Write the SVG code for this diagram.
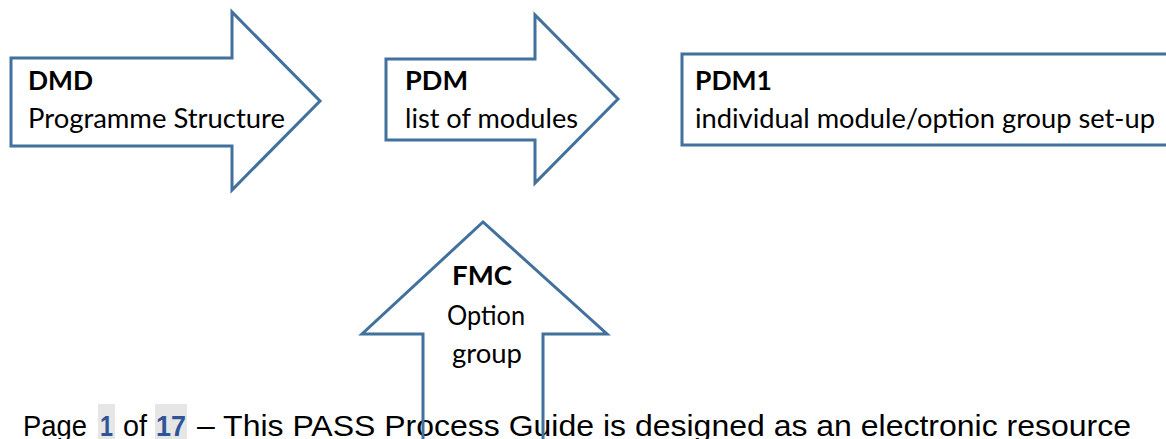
<svg xmlns="http://www.w3.org/2000/svg" width="1166" height="439" viewBox="0 0 1166 439">
<style>
.shape{fill:#fff;stroke:#41719C;stroke-width:3;stroke-linejoin:miter}
.open{fill:none;stroke:#41719C;stroke-width:3}
.t{font-family:Lato,"Open Sans",sans-serif;font-size:26px;fill:#000}
.b{font-weight:bold}
.foot{font-family:"Liberation Sans",Arial,sans-serif;font-size:30px;fill:#000}
.num{font-weight:bold;fill:#2F5597}
.hl{fill:#E6E6E6}
</style>
<rect width="1166" height="439" fill="#fff"/>
<g id="footer">
<rect class="hl" x="98" y="404" width="17" height="35"/>
<rect class="hl" x="155" y="404" width="32" height="35"/>
<text class="foot" y="436"><tspan x="23" textLength="64" lengthAdjust="spacingAndGlyphs">Page</tspan><tspan class="num" x="100" textLength="13" lengthAdjust="spacingAndGlyphs">1</tspan><tspan x="123" textLength="24" lengthAdjust="spacingAndGlyphs">of</tspan><tspan class="num" x="156" textLength="30" lengthAdjust="spacingAndGlyphs">17</tspan><tspan x="197" textLength="934" lengthAdjust="spacingAndGlyphs">– This PASS Process Guide is designed as an electronic resource</tspan></text>
</g>
<g id="connectors"></g>
<g id="dmd">
<path class="shape" d="M11,58 H232 V12 L320,101 L232,190 V146 H11 Z"/>
<text class="t b" x="28" y="90" textLength="65" lengthAdjust="spacingAndGlyphs">DMD</text>
<text class="t" x="28" y="128" textLength="257" lengthAdjust="spacingAndGlyphs">Programme Structure</text>
</g>
<g id="pdm">
<path class="shape" d="M386,59 H535 V15 L618,99 L535,183 V140 H386 Z"/>
<text class="t b" x="405" y="90" textLength="63" lengthAdjust="spacingAndGlyphs">PDM</text>
<text class="t" x="405" y="128" textLength="173" lengthAdjust="spacingAndGlyphs">list of modules</text>
</g>
<g id="pdm1">
<rect class="shape" x="682" y="54" width="500" height="91"/>
<text class="t b" x="695" y="90" textLength="77" lengthAdjust="spacingAndGlyphs">PDM1</text>
<text class="t" x="695" y="128" textLength="460" lengthAdjust="spacingAndGlyphs">individual module/option group set-up</text>
</g>
<g id="fmc">
<path class="open" d="M423,445 V334 H362 L483,222 L607,334 H543 V445"/>
<text class="t b" x="482" y="285" text-anchor="middle" textLength="60" lengthAdjust="spacingAndGlyphs">FMC</text>
<text class="t" x="486" y="325" text-anchor="middle" textLength="78" lengthAdjust="spacingAndGlyphs">Option</text>
<text class="t" x="487" y="363" text-anchor="middle" textLength="70" lengthAdjust="spacingAndGlyphs">group</text>
</g>
</svg>
